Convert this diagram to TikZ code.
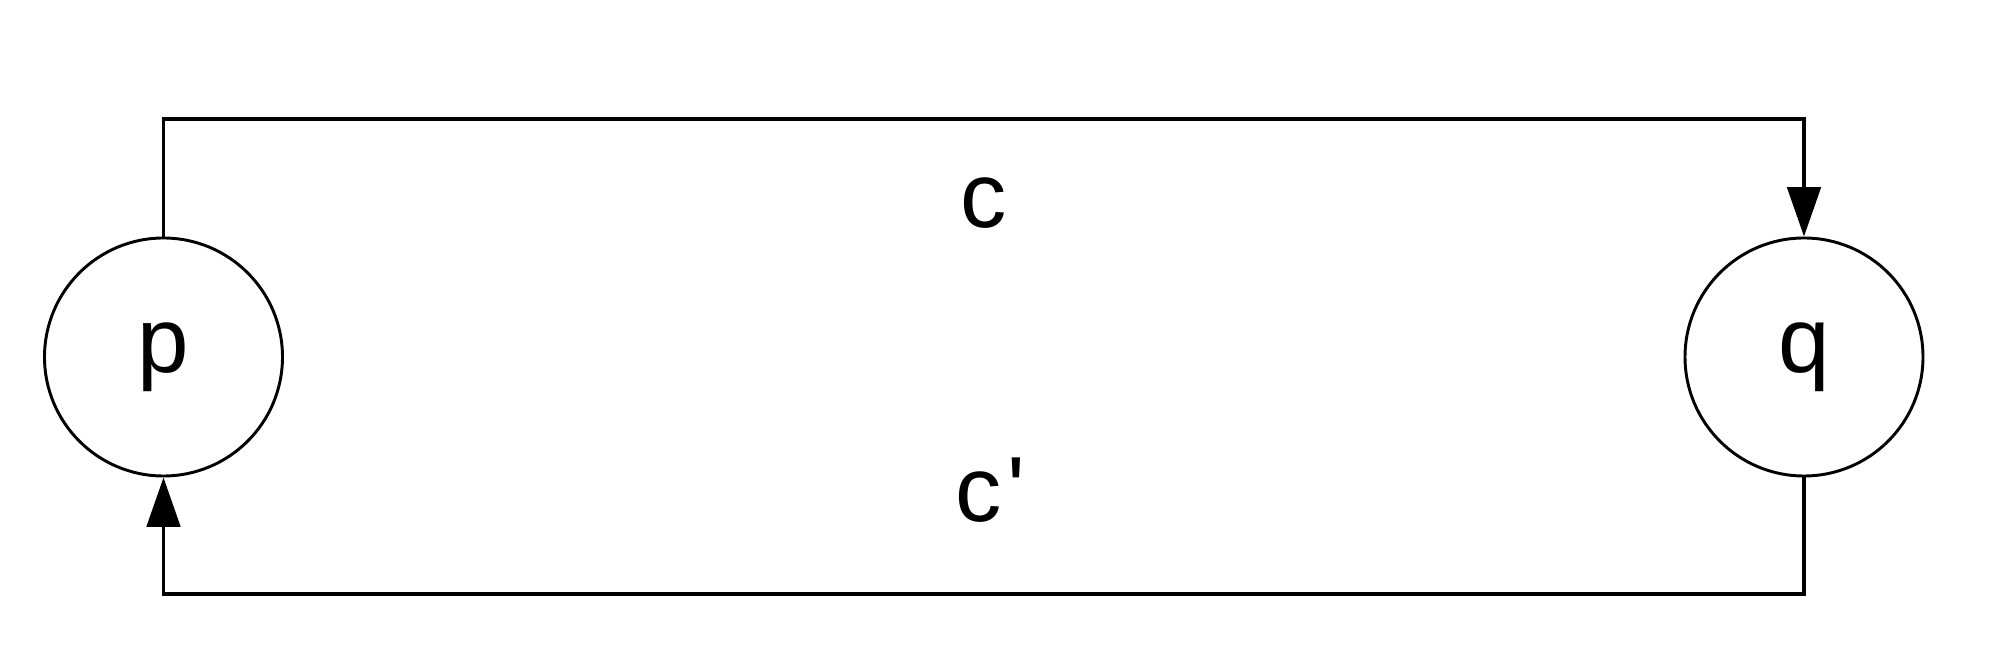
\documentclass[tikz,border=0pt]{standalone}
\usepackage{fontspec}
\setmainfont{Liberation Sans}
\usetikzlibrary{arrows.meta}
\begin{document}
\begin{tikzpicture}[x=0.375pt,y=-0.375pt,
  state/.style={circle,draw,line width=1.1pt,inner sep=0pt,minimum size=89.25pt,
    font=\fontsize{34.7}{40}\selectfont},
  lbl/.style={font=\fontsize{34.7}{40}\selectfont,inner sep=0pt},
  conn/.style={line width=1.4pt,line join=miter,-{Triangle[length=18.5pt,width=12.5pt]}}]
\useasboundingbox (0,0) rectangle (2000,665);
\node[state] (p) at (163.5,357) {p};
\node[state] (q) at (1804,357) {q};
\coordinate (t1) at (163.5,119);
\coordinate (t2) at (1804,119);
\coordinate (b1) at (163.5,594);
\coordinate (b2) at (1804,594);
\draw[conn] (p.north) -- (t1) -- (t2) -- (q.north);
\draw[conn] (q.south) -- (b2) -- (b1) -- (p.south);
\node[lbl,anchor=base] (lc) at (984,228) {c};
\node[lbl,anchor=base west] (lc2) at (955,522) {c\kern2pt\textquotesingle};
\end{tikzpicture}
\end{document}
